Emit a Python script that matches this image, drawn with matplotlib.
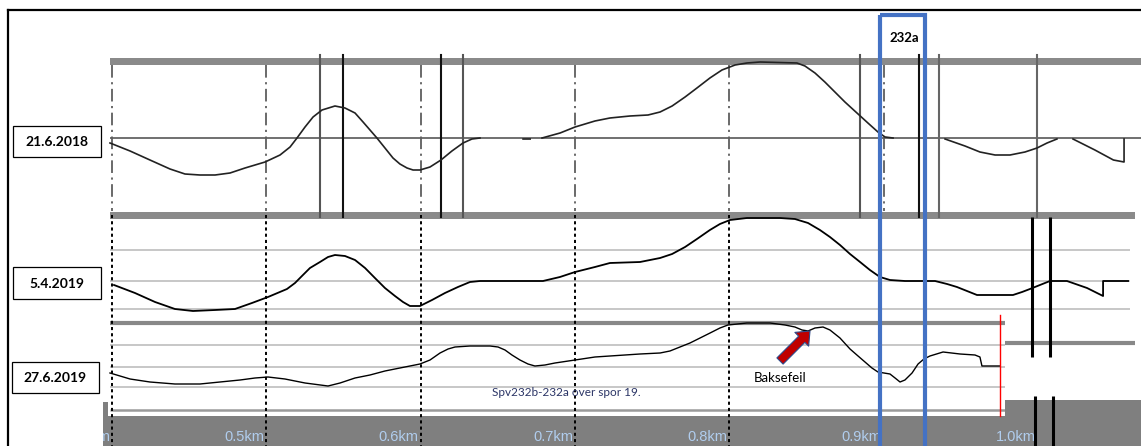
import numpy as np
import matplotlib.pyplot as plt
from matplotlib.patches import Rectangle
from matplotlib.transforms import Bbox, TransformedBbox

W, H = 1141, 446
PX_PER_KM = 1543.0
X0 = 0.4 - 112 / PX_PER_KM          # left edge of the strip in km
X1 = X0 + W / PX_PER_KM
PX_PER_MM = 2.0                     # vertical scale of the curves

# kilometre marks
km_ticks = [0.4, 0.5, 0.6, 0.7, 0.8, 0.9, 1.0]
km_labels = ['0.4km', '0.5km', '0.6km', '0.7km', '0.8km', '0.9km', '1.0km']

dates = ['21.6.2018', '5.4.2019', '27.6.2019']

# signal / switch positions drawn over the 2018 run
signals_2018 = [0.5348, 0.5497, 0.6132, 0.6275, 0.8848, 0.9230, 0.9360, 0.9995]
signal_colors = ['#555555', '#111111', '#111111', '#555555',
                 '#555555', '#111111', '#666666', '#666666']
# switch 232a
sw_upper = [0.9962, 1.0079]
sw_lower = [0.9981, 1.0099]
end_2019b = 0.9755

nan = np.nan
# run 21.6.2018, mm (gaps where the recording drops out)
km_2018 = [0.3987, 0.4117, 0.4246, 0.4376, 0.4473, 0.4570, 0.4668, 0.4765, 0.4862, 0.4992,
           0.5089, 0.5154, 0.5199, 0.5251, 0.5303, 0.5361, 0.5445, 0.5510, 0.5575, 0.5627,
           0.5672, 0.5717, 0.5769, 0.5821, 0.5866, 0.5912, 0.5951, 0.5996, 0.6061, 0.6132,
           0.6203, 0.6275, 0.6333, 0.6385,
           nan,
           0.6664, 0.6710,
           nan,
           0.6787, 0.6904, 0.7001, 0.7130, 0.7227, 0.7357, 0.7474, 0.7552, 0.7630, 0.7714,
           0.7791, 0.7875, 0.7953, 0.8038, 0.8115, 0.8200, 0.8439, 0.8491, 0.8556, 0.8620,
           0.8685, 0.8750, 0.8828, 0.8899, 0.8964, 0.9010, 0.9062,
           nan,
           0.9399, 0.9528, 0.9625, 0.9723, 0.9820, 0.9917, 0.9995, 1.0060, 1.0124,
           nan,
           1.0228, 1.0370, 1.0490, 1.0559, 1.0559]
mm_2018 = [-2.5, -6.5, -11, -15.5, -18, -18.5, -18.5, -17.5, -15, -12,
           -8.5, -4.5, 0, 5.5, 10.5, 14, 16, 15, 12.5, 8,
           4, 0, -5, -10, -13, -15, -16, -16, -14.5, -11,
           -6.5, -2.5, -0.5, 0,
           nan,
           -0.5, -0.5,
           nan,
           0, 2.5, 5.5, 8.5, 10, 11, 11.5, 13, 16, 20.5,
           25, 30, 34, 36.5, 37.5, 38, 37.5, 36, 32.5, 28,
           23, 18, 12.5, 7.5, 3, 0.5, 0,
           nan,
           -0.5, -4, -7, -8.5, -8.5, -7, -5, -2.5, -0.5,
           nan,
           -0.5, -6, -11, -12, -0.5]

# run 5.4.2019, mm
km_2019a = [0.4013, 0.4149, 0.4279, 0.4408, 0.4525, 0.4668, 0.4797, 0.4907, 0.5011, 0.5134,
            0.5186, 0.5231, 0.5283, 0.5348, 0.5400, 0.5445, 0.5510, 0.5575, 0.5640, 0.5704,
            0.5769, 0.5834, 0.5886, 0.5931, 0.5996, 0.6074, 0.6158, 0.6242, 0.6320, 0.6385,
            0.6793, 0.6903, 0.7001, 0.7130, 0.7227, 0.7422, 0.7552, 0.7630, 0.7714, 0.7791,
            0.7875, 0.7940, 0.8005, 0.8115, 0.8329, 0.8426, 0.8511, 0.8588, 0.8653, 0.8718,
            0.8783, 0.8848, 0.8912, 0.8977, 0.9042, 0.9139, 0.9334, 0.9412, 0.9476, 0.9541,
            0.9606, 0.9839, 0.9898, 0.9949, 1.0014, 1.0079, 1.0189, 1.0319, 1.0423, 1.0423,
            1.0585]
mm_2019a = [-2, -6, -10.5, -14, -15, -14.5, -14, -11, -8, -4,
            -1, 2.5, 6.5, 9.5, 12, 13, 12.5, 10.5, 6.5, 1.5,
            -3.5, -7.5, -10.5, -12.5, -12.5, -9.5, -6, -3, -0.5, 0,
            0, 2, 4.5, 7, 9, 9.5, 11.5, 13.5, 17, 21,
            25.5, 28.5, 30.5, 31.5, 31.5, 31, 29, 25.5, 22, 18,
            13.5, 9.5, 5.5, 2, 0.5, 0, 0, -1.5, -3, -5,
            -7, -7, -5.5, -4, -2, 0, 0, -3.5, -7.5, 0,
            0]

# run 27.6.2019, mm
km_2019b = [0.3987, 0.4117, 0.4246, 0.4408, 0.4570, 0.4700, 0.4830, 0.4927, 0.5011, 0.5121,
            0.5251, 0.5400, 0.5478, 0.5575, 0.5672, 0.5769, 0.5866, 0.5996, 0.6061, 0.6126,
            0.6178, 0.6223, 0.6320, 0.6450, 0.6502, 0.6547, 0.6592, 0.6644, 0.6696, 0.6741,
            0.6806, 0.6871, 0.7001, 0.7130, 0.7227, 0.7422, 0.7552, 0.7616, 0.7681, 0.7746,
            0.7811, 0.7876, 0.7940, 0.7992, 0.8115, 0.8264, 0.8362, 0.8426, 0.8472, 0.8511,
            0.8556, 0.8608, 0.8653, 0.8718, 0.8783, 0.8835, 0.8880, 0.8925, 0.8964, 0.9042,
            0.9075, 0.9107, 0.9139, 0.9185, 0.9224, 0.9262, 0.9301, 0.9386, 0.9496, 0.9593,
            0.9625, 0.9638, 0.9755]
mm_2019b = [-3, -6, -7.5, -8.5, -8.5, -7.5, -6.5, -5.5, -5, -6,
            -8, -9.5, -8, -5.5, -4, -2, -0.5, 1.5, 3.5, 7,
            9, 10, 10.5, 10.5, 10, 8.5, 6, 3.5, 1.5, 0.5,
            1, 2, 3.5, 5, 5.5, 6.5, 7, 8, 10, 12,
            14.5, 17, 19.5, 21, 22, 22, 21, 20, 18.5, 18,
            19.5, 20, 18.5, 14.5, 9, 5.5, 2.5, -0.5, -2.5, -3.5,
            -5.5, -7.5, -6.5, -3, 1.5, 4, 5.5, 7.5, 6.5, 6,
            5, 0.5, 0.5]


def kx(px):
    return X0 + px / PX_PER_KM


def hline(ax, row, x0, x1, color, lw, z=1):
    ax.plot([kx(x0), kx(x1)], [row, row], color=color, lw=lw,
            solid_capstyle='butt', zorder=z)


def bar(ax, x0, x1, r0, r1, color, z=1):
    ax.add_patch(Rectangle((kx(x0), r0), kx(x1) - kx(x0), r1 - r0,
                           facecolor=color, edgecolor='none', zorder=z))


def curve_axes(base_row, z):
    a = fig.add_axes([0, 0, 1, 1], zorder=z)
    a.set_xlim(X0, X1)
    a.set_ylim((base_row - H) / PX_PER_MM, base_row / PX_PER_MM)
    a.axis('off')
    a.patch.set_alpha(0)
    return a


fig = plt.figure(figsize=(W / 100, H / 100), dpi=100)
ax = fig.add_axes([0, 0, 1, 1], zorder=0)
ax.set_xlim(X0, X1)
ax.set_ylim(H, 0)
ax.axis('off')

# outer frame
ax.plot([kx(8), kx(W)], [10, 10], color='black', lw=1.6, zorder=6)
ax.plot([kx(8), kx(8)], [10, H], color='black', lw=1.6, zorder=6)

# --- 21.6.2018 ---
bar(ax, 110, W, 58, 65, '#8a8a8a')
bar(ax, 110, 1135, 212, 219, '#8a8a8a')
hline(ax, 138, 110, W, '#707070', 1.4)
for k in km_ticks[:-1]:
    ax.plot([k, k], [65, 211], color='#5e5e5e', lw=1.3,
            linestyle=(0, (7, 2.5, 1.2, 2.5)), zorder=1)
for k, c in zip(signals_2018, signal_colors):
    ax.plot([k, k], [55, 217], color=c, lw=1.5, zorder=2)

# --- 5.4.2019 ---
for row in (250, 281, 309):
    hline(ax, row, 110, 1130, '#b8b8b8', 1.1)
hline(ax, 323, 110, 1005, '#888888', 3.0)

# --- 27.6.2019 ---
for row in (345, 367, 387):
    hline(ax, row, 110, 1005, '#b8b8b8', 1.1)
hline(ax, 410, 110, 1005, '#9a9a9a', 1.8)
hline(ax, 343, 1005, 1135, '#888888', 3.0)
bar(ax, 103, W, 416, H, '#7f7f7f')
bar(ax, 103, 108, 402, H, '#7f7f7f')
bar(ax, 1005, W, 400, H, '#7f7f7f')

for k in km_ticks[:5]:
    ax.plot([k, k], [215, H], color='black', lw=1.4,
            linestyle=(0, (1.6, 1.6)), zorder=2)

# km labels on the bottom bar, clipped to it
clip = TransformedBbox(Bbox([[kx(103), 416], [kx(W), H]]), ax.transData)
for k, lab in zip(km_ticks, km_labels):
    t = ax.text(k - 2 / PX_PER_KM, 437, lab, ha='right', va='center',
                fontsize=10.5, color='#b0cdee', family='Liberation Sans', zorder=3)
    t.set_clip_box(clip)
    t.set_clip_on(True)

# date boxes
for (x0, x1, r0, r1), d in zip([(13, 101, 126, 157), (13, 101, 267, 299),
                                (12, 99, 362, 393)], dates):
    ax.add_patch(Rectangle((kx(x0), r0), kx(x1) - kx(x0), r1 - r0,
                           facecolor='white', edgecolor='black', lw=0.9, zorder=4))
    ax.text(kx((x0 + x1) / 2), (r0 + r1) / 2 + 1, d, ha='center', va='center',
            fontsize=10, fontweight='bold', family='Lato', zorder=5)

ax.text(kx(566), 392, 'Spv232b-232a over spor 19.', ha='center', va='center',
        fontsize=8.5, color='#2b3566', family='Lato', zorder=3)
ax.text(kx(780), 378, 'Baksefeil', ha='center', va='center',
        fontsize=9.5, color='black', family='Lato', zorder=3)

# measured curves
for base, ks, vs, lw, col in [(138, km_2018, mm_2018, 1.2, '#222222'),
                              (281, km_2019a, mm_2019a, 1.3, 'black'),
                              (367, km_2019b, mm_2019b, 1.0, 'black')]:
    cax = curve_axes(base, 1)
    cax.plot(ks, vs, color=col, lw=lw, solid_joinstyle='round')

# overlay: switch lines, end marker, arrow, 232a frame
top = fig.add_axes([0, 0, 1, 1], zorder=2)
top.set_xlim(X0, X1)
top.set_ylim(H, 0)
top.axis('off')
top.patch.set_alpha(0)
for k in sw_upper:
    top.plot([k, k], [217, 357], color='black', lw=2.2, solid_capstyle='butt')
for k in sw_lower:
    top.plot([k, k], [396, H], color='black', lw=2.2, solid_capstyle='butt')
top.plot([end_2019b, end_2019b], [315, 416], color='red', lw=1.0)
top.annotate('', xy=(kx(810), 331), xytext=(kx(780), 361),
             arrowprops=dict(arrowstyle='simple,head_length=0.6,head_width=1.0,tail_width=0.45',
                             fc='#c00000', ec='#2f4a8a', lw=0.8, mutation_scale=14,
                             shrinkA=0, shrinkB=0))
top.add_patch(Rectangle((kx(880), 15), kx(925) - kx(880), 460,
                        facecolor='none', edgecolor='#4472c4', lw=3.0))
top.text(kx(904), 38, '232a', ha='center', va='center', fontsize=9.5,
         fontweight='bold', family='Lato')

fig.savefig('out.png', dpi=100)
